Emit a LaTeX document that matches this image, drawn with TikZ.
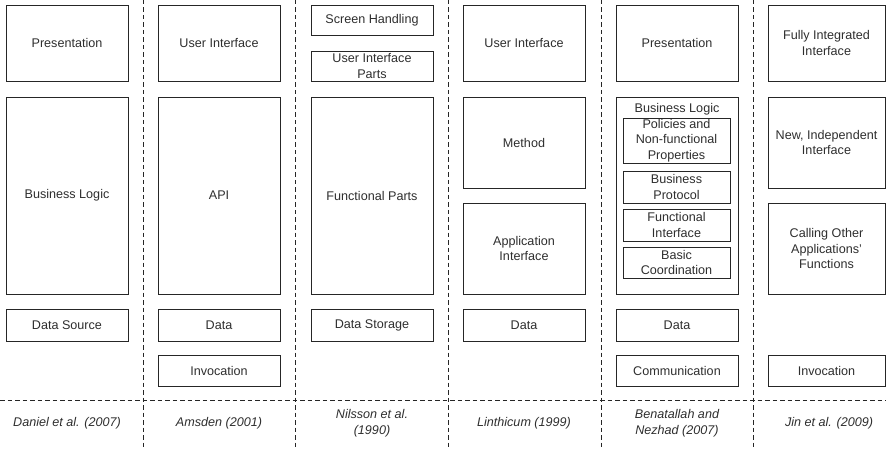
\documentclass[tikz,border=0pt]{standalone}
\usepackage{fontspec}
\setmainfont{Liberation Sans}
\begin{document}
\begin{tikzpicture}[x=1pt,y=-1pt,
  every node/.style={font=\fontsize{12.6}{15.3}\selectfont, text=black!82},
  box/.style={draw=black!85, line width=0.8pt, align=center, inner sep=0pt, minimum width=122pt},
  lastbox/.style={box, minimum width=117pt},
  inbox/.style={draw=black!85, line width=0.8pt, align=center, inner sep=0pt, minimum width=107pt},
  sep/.style={draw=black!85, line width=0.7pt, dash pattern=on 4.5pt off 3pt},
  cite/.style={align=center, font=\fontsize{12.6}{16}\selectfont\itshape}]
\useasboundingbox (0,0) rectangle (886,449);
% separators
\foreach \i/\x in {1/143,2/295,3/448,4/601,5/753}{
  \coordinate (vt\i) at (\x,0);
  \coordinate (vb\i) at (\x,449);
  \draw[sep] (vt\i) -- (vb\i);
}
\coordinate (hl) at (0,400);
\coordinate (hr) at (886,400);
\draw[sep] (hl) -- (hr);

% column 1
\node[box, minimum height=76pt] (c1a) at (67,43) {Presentation};
\node[box, minimum height=197pt] (c1b) at (67,195.5) {Business Logic};
\node[box, minimum height=32pt] (c1c) at (67,325) {Data Source};
\node[cite] (c1l) at (67,423) {Daniel et al. (2007)};

% column 2
\node[box, minimum height=76pt] (c2a) at (219,43) {User Interface};
\node[box, minimum height=197pt] (c2b) at (219,195.5) {API};
\node[box, minimum height=32pt] (c2c) at (219,325) {Data};
\node[box, minimum height=31pt] (c2d) at (219,370.5) {Invocation};
\node[cite] (c2l) at (219,423) {Amsden (2001)};

% column 3
\node[box, minimum height=30pt] (c3a) at (372,20) {Screen Handling};
\node[box, minimum height=30pt] (c3b) at (372,66) {User Interface\\Parts};
\node[box, minimum height=197pt] (c3c) at (372,195.5) {Functional Parts};
\node[box, minimum height=32pt] (c3d) at (372,325) {Data Storage};
\node[cite] (c3l) at (372,423) {Nilsson et al.\\(1990)};

% column 4
\node[box, minimum height=76pt] (c4a) at (524,43) {User Interface};
\node[box, minimum height=91pt] (c4b) at (524,142.5) {Method};
\node[box, minimum height=91pt] (c4c) at (524,248.5) {Application\\Interface};
\node[box, minimum height=32pt] (c4d) at (524,325) {Data};
\node[cite] (c4l) at (524,423) {Linthicum (1999)};

% column 5
\node[box, minimum height=76pt] (c5a) at (677,43) {Presentation};
\node[box, minimum height=197pt] (c5b) at (677,195.5) {};
\node (c5t) at (677,109) {Business Logic};
\node[inbox, minimum height=45pt] (c5p) at (676.5,140.5) {Policies and\\Non-functional\\Properties};
\node[inbox, minimum height=32pt] (c5q) at (676.5,187) {Business\\Protocol};
\node[inbox, minimum height=32pt] (c5r) at (676.5,225) {Functional\\Interface};
\node[inbox, minimum height=31pt] (c5s) at (676.5,262.5) {Basic\\Coordination};
\node[box, minimum height=32pt] (c5c) at (677,325) {Data};
\node[box, minimum height=31pt] (c5d) at (677,370.5) {Communication};
\node[cite] (c5l) at (677,423) {Benatallah and\\Nezhad (2007)};

% column 6
\node[lastbox, minimum height=76pt] (c6a) at (826.5,43) {Fully Integrated\\Interface};
\node[lastbox, minimum height=91pt] (c6b) at (826.5,142.5) {New, Independent\\Interface};
\node[lastbox, minimum height=91pt] (c6c) at (826.5,248.5) {Calling Other\\Applications'\\Functions};
\node[lastbox, minimum height=31pt] (c6d) at (826.5,370.5) {Invocation};
\node[cite] (c6l) at (829,423) {Jin et al. (2009)};
\end{tikzpicture}
\end{document}
